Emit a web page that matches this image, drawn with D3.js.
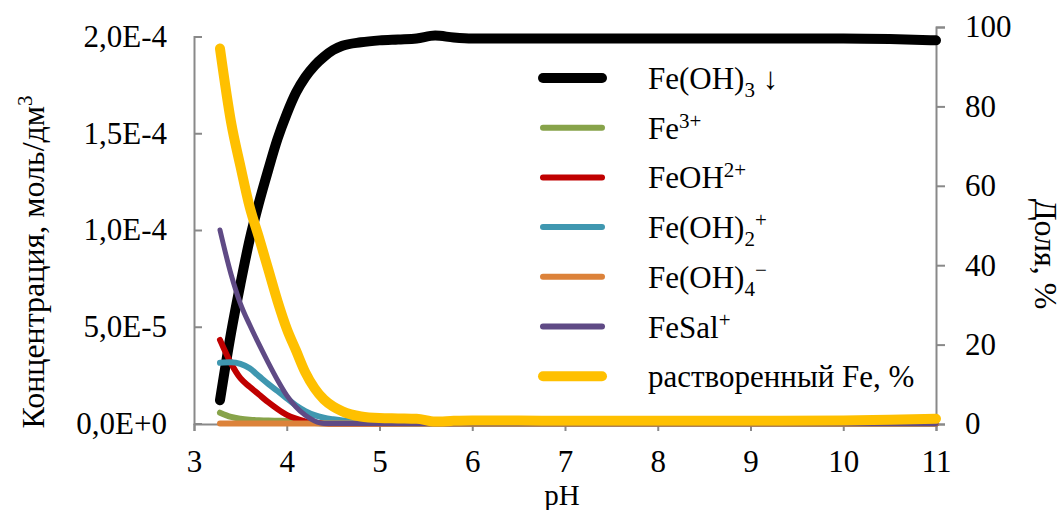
<!DOCTYPE html>
<html>
<head>
<meta charset="utf-8">
<script src="https://cdn.jsdelivr.net/npm/d3@7"></script>
<style>
  body { margin: 0; background: #fff; }
  text, tspan { font-family: "Liberation Serif", "Times New Roman", serif; fill: #000; }
</style>
</head>
<body>
<div id="chart"></div>
<script>
// pH grid shared by every series
var ph = [3.28, 3.4, 3.5, 3.6, 3.7, 3.8, 3.9, 4.0, 4.1, 4.2, 4.3, 4.4, 4.5, 4.6, 4.8, 5.0, 5.2, 5.4, 5.6, 5.8, 6, 6.5, 7, 8, 9, 10, 10.5, 11];

// concentrations, x1e-4 mol/dm3 (left axis)
var feoh3  = [0.12, 0.47, 0.72, 0.95, 1.14, 1.31, 1.47, 1.60, 1.71, 1.79, 1.85, 1.895, 1.93, 1.952, 1.97, 1.98, 1.985, 1.99, 2.005, 1.995, 1.99, 1.99, 1.99, 1.99, 1.99, 1.99, 1.987, 1.98];
var fe3    = [0.056, 0.034, 0.025, 0.02, 0.017, 0.015, 0.014, 0.013, 0.01, 0.006, 0.003, 0.001, 0, 0, 0, 0, 0, 0, 0, 0, 0, 0, 0, 0, 0, 0, 0, 0];
var feoh2  = [0.432, 0.31, 0.234, 0.19, 0.15, 0.11, 0.075, 0.045, 0.025, 0.011, 0.004, 0.001, 0, 0, 0, 0, 0, 0, 0, 0, 0, 0, 0, 0, 0, 0, 0, 0];
var feoh2p = [0.314, 0.316, 0.308, 0.285, 0.245, 0.205, 0.168, 0.13, 0.093, 0.064, 0.043, 0.03, 0.022, 0.016, 0.008, 0.003, 0.001, 0, 0, 0, 0, 0, 0, 0, 0, 0, 0, 0];
var feoh4  = [0, 0, 0, 0, 0, 0, 0, 0, 0, 0, 0, 0, 0, 0, 0, 0, 0, 0, 0, 0, 0, 0, 0, 0, 0, 0, 0, 0];
var fesal  = [1.0, 0.77, 0.62, 0.51, 0.41, 0.315, 0.225, 0.145, 0.085, 0.042, 0.013, 0, 0, 0, 0, 0, 0, 0, 0, 0, 0, 0, 0, 0, 0, 0, 0, 0];
// dissolved Fe, % (right axis)
var dissolved = [94.6, 76, 65, 54.7, 47, 39, 31, 24, 18.5, 13, 9, 6.2, 4.4, 3.2, 1.9, 1.5, 1.4, 1.3, 0.6, 0.8, 0.9, 0.9, 0.8, 0.8, 0.8, 0.9, 1.1, 1.3];

var xTicks = [3, 4, 5, 6, 7, 8, 9, 10, 11];
var leftTicks = [0, 5e-5, 1e-4, 1.5e-4, 2e-4];
var leftTickLabels = ["0,0E+0", "5,0E-5", "1,0E-4", "1,5E-4", "2,0E-4"];
var rightTicks = [0, 20, 40, 60, 80, 100];

var width = 1063, height = 510;
var axisColor = "#898989";

var svg = d3.select("#chart").append("svg")
  .attr("width", width)
  .attr("height", height);

var x = d3.scaleLinear().domain([3, 11]).range([194, 936]);
var yL = d3.scaleLinear().domain([0, 2e-4]).range([423.5, 36.5]);
var yR = d3.scaleLinear().domain([0, 100]).range([424, 27]);

// axes
var gx = svg.append("g").attr("transform", "translate(0,424)")
  .call(d3.axisBottom(x).tickValues(xTicks).tickSize(7).tickFormat(d3.format("d")));
gx.selectAll("text").attr("y", 48).attr("dy", 0);

var gl = svg.append("g").attr("transform", "translate(194,0)")
  .call(d3.axisLeft(yL).tickValues(leftTicks).tickSize(-8).tickPadding(27)
    .tickFormat(function(d, i) { return leftTickLabels[i]; }));

var gr = svg.append("g").attr("transform", "translate(936,0)")
  .call(d3.axisRight(yR).tickValues(rightTicks).tickSize(9).tickPadding(20));

[gx, gl, gr].forEach(function(g) {
  g.select(".domain").attr("stroke", axisColor).attr("stroke-width", 2);
  g.selectAll(".tick line").attr("stroke", axisColor).attr("stroke-width", 2);
  g.selectAll("text").style("font-size", "31px").attr("fill", "#000")
    .style("font-family", "'Liberation Serif', 'Times New Roman', serif");
});
gl.selectAll(".tick text").attr("dy", "0.32em");
gr.selectAll(".tick text").attr("dy", "0.32em");

// axis titles
svg.append("text")
  .attr("transform", "translate(44,262) rotate(-90)")
  .attr("text-anchor", "middle")
  .style("font-size", "32px")
  .text("Концентрация, моль/дм")
  .append("tspan").attr("dy", -12).style("font-size", "21px").text("3");

svg.append("text")
  .attr("transform", "translate(1035,254) rotate(90)")
  .attr("text-anchor", "middle")
  .style("font-size", "32px")
  .text("Доля, %");

svg.append("text")
  .attr("x", 562).attr("y", 505)
  .attr("text-anchor", "middle")
  .style("font-size", "29px")
  .text("pH");

// series
var series = [
  { values: feoh3, color: "#000000", w: 10, axis: yL, scale: 1e-4 },
  { values: fe3, color: "#87a34a", w: 6, axis: yL, scale: 1e-4 },
  { values: feoh2, color: "#c00000", w: 6, axis: yL, scale: 1e-4 },
  { values: feoh2p, color: "#3f97b0", w: 6, axis: yL, scale: 1e-4 },
  { values: feoh4, color: "#dc823a", w: 6, axis: yL, scale: 1e-4 },
  { values: fesal, color: "#5f4a85", w: 5, axis: yL, scale: 1e-4 },
  { values: dissolved, color: "#ffc000", w: 10, axis: yR, scale: 1 }
];

series.forEach(function(s) {
  var line = d3.line()
    .x(function(d, i) { return x(ph[i]); })
    .y(function(d) { return s.axis(d * s.scale); })
    .curve(d3.curveMonotoneX);
  svg.append("path")
    .datum(s.values)
    .attr("d", line)
    .attr("fill", "none")
    .attr("stroke", s.color)
    .attr("stroke-width", s.w)
    .attr("stroke-linecap", "round")
    .attr("stroke-linejoin", "round");
});

// legend
var legend = svg.append("g");
var rowY = function(i) { return 78 + i * 49.7; };

series.forEach(function(s, i) {
  legend.append("line")
    .attr("x1", 543).attr("x2", 602)
    .attr("y1", rowY(i)).attr("y2", rowY(i))
    .attr("stroke", s.color)
    .attr("stroke-width", s.w === 10 ? 10 : 6)
    .attr("stroke-linecap", "round");
});

function legendText(i) {
  return legend.append("text")
    .attr("x", 648).attr("y", rowY(i) + 11)
    .style("font-size", "31px");
}
var sub = 8, sup = -11, small = "21px";

var t0 = legendText(0).text("Fe(OH)");
t0.append("tspan").attr("dy", sub).style("font-size", small).text("3");
t0.append("tspan").attr("dy", -sub).text(" ↓");

var t1 = legendText(1).text("Fe");
t1.append("tspan").attr("dy", sup).style("font-size", small).text("3+");

var t2 = legendText(2).text("FeOH");
t2.append("tspan").attr("dy", sup).style("font-size", small).text("2+");

var t3 = legendText(3).text("Fe(OH)");
t3.append("tspan").attr("dy", sub).style("font-size", small).text("2");
t3.append("tspan").attr("dy", sup - sub).style("font-size", small).text("+");

var t4 = legendText(4).text("Fe(OH)");
t4.append("tspan").attr("dy", sub).style("font-size", small).text("4");
t4.append("tspan").attr("dy", sup - sub).style("font-size", small).text("−");

var t5 = legendText(5).text("FeSal");
t5.append("tspan").attr("dy", sup).style("font-size", small).text("+");

legendText(6).text("растворенный Fe, %");
</script>
</body>
</html>
